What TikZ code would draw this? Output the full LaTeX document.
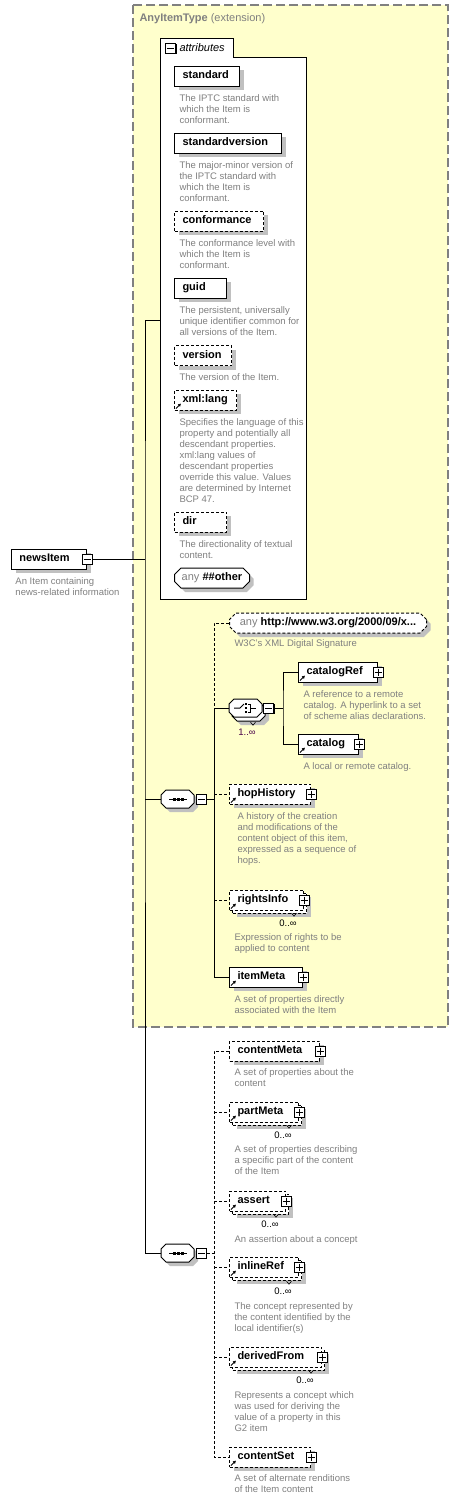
\documentclass[tikz,border=0pt]{standalone}
\usepackage{fontspec}
\setmainfont{Liberation Sans}
\usetikzlibrary{positioning,shapes.misc,shadows,arrows.meta}

\definecolor{extfill}{RGB}{255,255,204}
\definecolor{extline}{RGB}{128,128,128}
\definecolor{desctext}{RGB}{128,128,128}
\definecolor{shadegray}{RGB}{192,192,192}
\definecolor{multpurple}{RGB}{72,0,72}

\newcommand\namefont{\fontsize{11}{13}\selectfont\bfseries}
\newcommand\descfont{\fontsize{9.5}{11}\selectfont}

\begin{document}
\begin{tikzpicture}[
    x=1pt, y=-1pt,
    line width=1pt,
    every node/.style={font=\descfont},
    elbox/.style={
        draw,
        fill=white,
        anchor=west,
        align=left,
        font=\namefont,
        minimum height=20pt,
        inner xsep=8pt,
        inner ysep=0pt,
        text height=8pt,
        text depth=2.5pt
    },
    boxshadow/.style={drop shadow={shadow xshift=4pt, shadow yshift=-4pt, fill=shadegray, opacity=1}},
    elem/.style={elbox, boxshadow},
    optbox/.style={dash pattern=on 3pt off 2pt},
    compo/.style={
        minimum width=33pt,
        minimum height=18pt,
        inner sep=0pt,
        anchor=west
    },
    octa/.style={draw, fill=white},
    wild/.style={
        draw,
        fill=white,
        chamfered rectangle,
        chamfered rectangle xsep=3pt,
        minimum height=20pt,
        inner xsep=2pt,
        inner ysep=0pt,
        anchor=west,
        font=\namefont,
        boxshadow
    },
    pmbox/.style={
        draw,
        fill=white,
        minimum size=10pt,
        inner sep=0pt,
        drop shadow={shadow xshift=1pt, shadow yshift=-1pt, fill=black, opacity=1}
    },
    plusbox/.style={pmbox, path picture={
        \draw (path picture bounding box.center) ++(-3.5,0) -- ++(7,0)
              (path picture bounding box.center) ++(0,-3.5) -- ++(0,7);}},
    minusbox/.style={pmbox, path picture={
        \draw (path picture bounding box.center) ++(-3.5,0) -- ++(7,0);}},
    desc/.style={anchor=north west, inner sep=0pt, align=left, font=\descfont, text=desctext},
    mult/.style={inner sep=0pt, font=\descfont},
    refarr/.style={-{Latex[length=3pt,width=3.5pt]}, line width=0.9pt},
    tick/.style={line width=0.6pt},
    wire/.style={line width=1pt},
    optline/.style={dash pattern=on 3pt off 2pt},
    extframe/.style={draw=extline, fill=extfill, line width=1.2pt, dash pattern=on 9pt off 4pt}
]
    \useasboundingbox (0,0) rectangle (459,1500);

    % extension frame
    \draw[extframe] (133,5) rectangle (448,1027);
    \node[anchor=west, inner sep=0pt, font=\namefont, text=extline] (extLabel) at (139,19) {AnyItemType \mdseries(extension)};

    % attributes panel
    \draw[fill=white] (160,599) -- (160,38) -- (233,38) -- (233,57) -- (306,57) -- (306,599) -- cycle;
    \node[minusbox] (attr-m) at (170.5,48) {};
    \node[anchor=west, inner sep=0pt, font=\fontsize{11}{13}\selectfont\itshape] (attr-t) at (179,48) {attributes};
    \coordinate (attrIn) at (160,320);

    % root element
    \node[elem, text width=59pt] (newsItem) at (11,559) {newsItem};
    \node[minusbox] (newsItem-m) at (newsItem.east) {};
    \node[desc] (newsItem-d) at (15,577.5) {An Item containing\\news-related information};

    % attributes
    \node[elem, text width=49pt] (standard) at (174,76) {standard};
    \node[desc] (standard-d) at (179,94.5) {The IPTC standard with\\which the Item is\\conformant.};

    \node[elem, text width=91pt] (standardversion) at (174,143) {standardversion};
    \node[desc] (standardversion-d) at (179,161.5) {The major-minor version of\\the IPTC standard with\\which the Item is\\conformant.};

    \node[elem, optbox, text width=73pt] (conformance) at (174,221) {conformance};
    \node[desc] (conformance-d) at (179,239.5) {The conformance level with\\which the Item is\\conformant.};

    \node[elem, text width=36pt] (guid) at (174,288) {guid};
    \node[desc] (guid-d) at (179,306.5) {The persistent, universally\\unique identifier common for\\all versions of the Item.};

    \node[elem, optbox, text width=41pt] (version) at (174,355.5) {version};
    \node[desc] (version-d) at (179,373.5) {The version of the Item.};

    \node[elem, optbox, text width=46pt] (xmllang) at (174,400) {xml:lang};
    \draw[refarr] ([shift={(2,-2)}]xmllang.south west) -- ++(5,-5);
    \node[desc] (xmllang-d) at (179,418.5) {Specifies the language of this\\property and potentially all\\descendant properties.\\xml:lang values of\\descendant properties\\override this value. Values\\are determined by Internet\\BCP 47.};

    \node[elem, optbox, text width=36pt] (dir) at (174,522) {dir};
    \node[desc] (dir-d) at (179,540.5) {The directionality of textual\\content.};

    \node[wild, minimum width=75pt] (anyOther) at (174,578) {{\mdseries\color{extline}any}\ \#\#other};

    % first sequence
    \node[compo] (seqA) at (161,799) {};
    \draw[octa, boxshadow] (seqA.west) ++(0,-4) -- ++(5,-5) -- ++(23,0) -- ++(5,5) -- ++(0,8) -- ++(-5,5) -- ++(-23,0) -- ++(-5,-5) -- cycle;
    \node[minusbox] (seqA-m) at ([xshift=6]seqA.east) {};
    \draw ([xshift=-9]seqA.center) -- ([xshift=9]seqA.center);
    \foreach \dx in {-4,0,4}
        \fill ([shift={(\dx-1.5,-1.5)}]seqA.center) rectangle ++(3,3);
    \coordinate (busA) at (214,799);

    \node[wild, optbox, minimum width=197pt] (anyHttp) at (229,623) {{\mdseries\color{extline}any}\ http://www.w3.org/2000/09/x...};
    \node[desc] (anyHttp-d) at (234,639.5) {W3C's XML Digital Signature};

    % choice
    \node[compo] (choiceA-b) at (232,712) {};
    \draw[octa, boxshadow] (choiceA-b.west) ++(0,-4) -- ++(5,-5) -- ++(23,0) -- ++(5,5) -- ++(0,8) -- ++(-5,5) -- ++(-23,0) -- ++(-5,-5) -- cycle;
    \node[compo] (choiceA) at (229,708) {};
    \draw[octa] (choiceA.west) ++(0,-4) -- ++(5,-5) -- ++(23,0) -- ++(5,5) -- ++(0,8) -- ++(-5,5) -- ++(-23,0) -- ++(-5,-5) -- cycle;
    \node[minusbox] (choiceA-m) at ([xshift=5.5]choiceA.east) {};
    \draw ([xshift=-12]choiceA.center) -- ([xshift=-6]choiceA.center) -- ([shift={(-2,-4)}]choiceA.center);
    \foreach \dy in {-4,0,4}
        \fill ([shift={(-1,\dy-1)}]choiceA.center) rectangle ++(2,2);
    \draw ([shift={(2,-4)}]choiceA.center) -- ([shift={(4,-4)}]choiceA.center) -- ([shift={(4,4)}]choiceA.center) -- ([shift={(2,4)}]choiceA.center);
    \draw ([xshift=4]choiceA.center) -- ([xshift=10]choiceA.center);
    \node[mult, text=multpurple] (choiceA-n) at (247,732) {1..∞};
    \draw[tick] ([shift={(6,-3)}]choiceA-n.north) ++(-2.5,-3) -- ++(2.5,3) -- ++(2.5,-3);
    \coordinate (busC) at (283,708);

    \node[elem, text width=63pt] (catalogRef) at (298,672) {catalogRef};
    \node[plusbox] (catalogRef-p) at (catalogRef.east) {};
    \draw[refarr] ([shift={(2,-2)}]catalogRef.south west) -- ++(5,-5);
    \node[desc] (catalogRef-d) at (303,690.5) {A reference to a remote\\catalog. A hyperlink to a set\\of scheme alias declarations.};

    \node[elem, text width=44pt] (catalog) at (298,744) {catalog};
    \node[plusbox] (catalog-p) at (catalog.east) {};
    \draw[refarr] ([shift={(2,-2)}]catalog.south west) -- ++(5,-5);
    \node[desc] (catalog-d) at (303,762.5) {A local or remote catalog.};

    \node[elem, optbox, text width=65pt] (hopHistory) at (229,794) {hopHistory};
    \node[plusbox] (hopHistory-p) at (hopHistory.east) {};
    \draw[refarr] ([shift={(2,-2)}]hopHistory.south west) -- ++(5,-5);
    \node[desc] (hopHistory-d) at (237,812.5) {A history of the creation\\and modifications of the\\content object of this item,\\expressed as a sequence of\\hops.};

    \node[elbox, optbox, boxshadow, minimum width=74pt] (rightsInfo-b) at (232,903) {};
    \node[elbox, optbox, text width=58pt] (rightsInfo) at (229,900) {rightsInfo};
    \node[plusbox] (rightsInfo-p) at (rightsInfo.east) {};
    \draw[refarr] ([shift={(2,-2)}]rightsInfo.south west) -- ++(5,-5);
    \node[mult] (rightsInfo-n) at (288,923) {0..∞};
    \draw[tick] ([shift={(6,-3)}]rightsInfo-n.north) ++(-2.5,-3) -- ++(2.5,3) -- ++(2.5,-3);
    \node[desc] (rightsInfo-d) at (234,933.5) {Expression of rights to be\\applied to content};

    \node[elem, text width=57pt] (itemMeta) at (229,977) {itemMeta};
    \node[plusbox] (itemMeta-p) at (itemMeta.east) {};
    \draw[refarr] ([shift={(2,-2)}]itemMeta.south west) -- ++(5,-5);
    \node[desc] (itemMeta-d) at (234,995.5) {A set of properties directly\\associated with the Item};

    % second sequence
    \node[compo] (seqB) at (161,1253) {};
    \draw[octa, boxshadow] (seqB.west) ++(0,-4) -- ++(5,-5) -- ++(23,0) -- ++(5,5) -- ++(0,8) -- ++(-5,5) -- ++(-23,0) -- ++(-5,-5) -- cycle;
    \node[minusbox] (seqB-m) at ([xshift=6]seqB.east) {};
    \draw ([xshift=-9]seqB.center) -- ([xshift=9]seqB.center);
    \foreach \dx in {-4,0,4}
        \fill ([shift={(\dx-1.5,-1.5)}]seqB.center) rectangle ++(3,3);
    \coordinate (busB) at (214,1253);

    \node[elem, optbox, text width=74pt] (contentMeta) at (229,1051) {contentMeta};
    \node[plusbox] (contentMeta-p) at (contentMeta.east) {};
    \node[desc] (contentMeta-d) at (234,1068.5) {A set of properties about the\\content};

    \node[elbox, optbox, boxshadow, minimum width=69pt] (partMeta-b) at (232,1115) {};
    \node[elbox, optbox, text width=53pt] (partMeta) at (229,1112) {partMeta};
    \node[plusbox] (partMeta-p) at (partMeta.east) {};
    \draw[refarr] ([shift={(2,-2)}]partMeta.south west) -- ++(5,-5);
    \node[mult] (partMeta-n) at (283,1135) {0..∞};
    \draw[tick] ([shift={(6,-3)}]partMeta-n.north) ++(-2.5,-3) -- ++(2.5,3) -- ++(2.5,-3);
    \node[desc] (partMeta-d) at (234,1145.5) {A set of properties describing\\a specific part of the content\\of the Item};

    \node[elbox, optbox, boxshadow, minimum width=56pt] (assert-b) at (232,1204) {};
    \node[elbox, optbox, text width=40pt] (assert) at (229,1201) {assert};
    \node[plusbox] (assert-p) at (assert.east) {};
    \draw[refarr] ([shift={(2,-2)}]assert.south west) -- ++(5,-5);
    \node[mult] (assert-n) at (270,1224) {0..∞};
    \draw[tick] ([shift={(6,-3)}]assert-n.north) ++(-2.5,-3) -- ++(2.5,3) -- ++(2.5,-3);
    \node[desc] (assert-d) at (234,1235.5) {An assertion about a concept};

    \node[elbox, optbox, boxshadow, minimum width=69pt] (inlineRef-b) at (232,1270) {};
    \node[elbox, optbox, text width=53pt] (inlineRef) at (229,1267) {inlineRef};
    \node[plusbox] (inlineRef-p) at (inlineRef.east) {};
    \draw[refarr] ([shift={(2,-2)}]inlineRef.south west) -- ++(5,-5);
    \node[mult] (inlineRef-n) at (283,1291) {0..∞};
    \draw[tick] ([shift={(6,-3)}]inlineRef-n.north) ++(-2.5,-3) -- ++(2.5,3) -- ++(2.5,-3);
    \node[desc] (inlineRef-d) at (234,1302.5) {The concept represented by\\the content identified by the\\local identifier(s)};

    \node[elbox, optbox, boxshadow, minimum width=92pt] (derivedFrom-b) at (232,1360) {};
    \node[elbox, optbox, text width=76pt] (derivedFrom) at (229,1357) {derivedFrom};
    \node[plusbox] (derivedFrom-p) at (derivedFrom.east) {};
    \draw[refarr] ([shift={(2,-2)}]derivedFrom.south west) -- ++(5,-5);
    \node[mult] (derivedFrom-n) at (305,1380) {0..∞};
    \draw[tick] ([shift={(6,-3)}]derivedFrom-n.north) ++(-2.5,-3) -- ++(2.5,3) -- ++(2.5,-3);
    \node[desc] (derivedFrom-d) at (234,1391.5) {Represents a concept which\\was used for deriving the\\value of a property in this\\G2 item};

    \node[elem, optbox, text width=65pt] (contentSet) at (229,1457) {contentSet};
    \node[plusbox] (contentSet-p) at (contentSet.east) {};
    \draw[refarr] ([shift={(2,-2)}]contentSet.south west) -- ++(5,-5);
    \node[desc] (contentSet-d) at (234,1474.5) {A set of alternate renditions\\of the Item content};

    % tree wires
    \coordinate (trunk) at (145,559);
    \draw[wire] (newsItem-m.east) -- (trunk);
    \draw[wire] (attrIn) -| (trunk) |- (seqB.west);
    \draw[wire] (trunk |- seqA.west) -- (seqA.west);

    \draw[wire] (seqA-m.east) -- (busA);
    \draw[wire, optline] (anyHttp.west) -| (busA |- choiceA.west);
    \draw[wire] (choiceA.west) -| (busA |- itemMeta.west) -- (itemMeta.west);
    \draw[wire, optline] (busA |- hopHistory.west) -- (hopHistory.west);
    \draw[wire, optline] (busA |- rightsInfo.west) -- (rightsInfo.west);

    \draw[wire] (choiceA-m.east) -- (busC);
    \draw[wire] (catalogRef.west) -| (busC) |- (catalog.west);

    \draw[wire, optline] (seqB-m.east) -- (busB);
    \draw[wire, optline] (contentMeta.west) -| (busB |- contentSet.west) -- (contentSet.west);
    \foreach \el in {partMeta, assert, inlineRef, derivedFrom}
        \draw[wire, optline] (busB |- \el.west) -- (\el.west);

\end{tikzpicture}
\end{document}
